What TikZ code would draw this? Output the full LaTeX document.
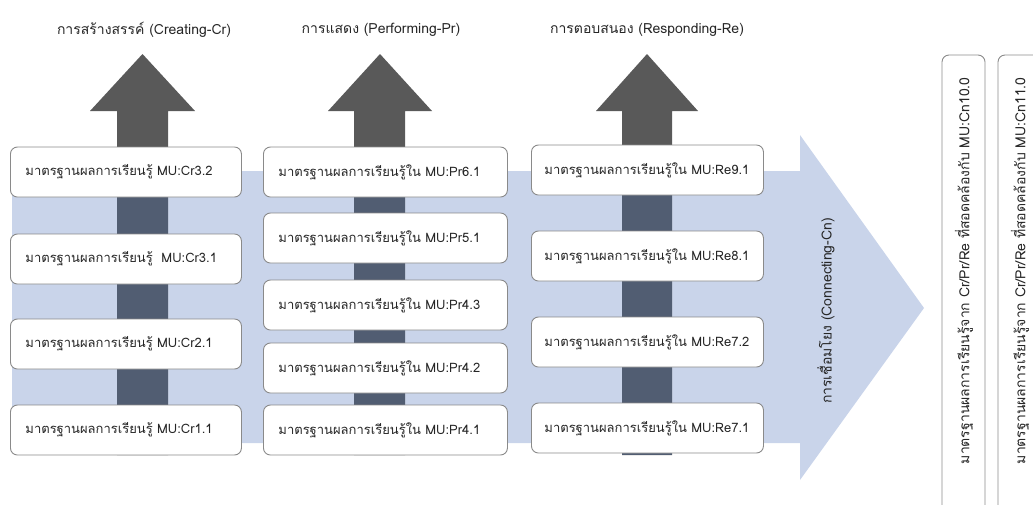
\documentclass[tikz,border=0pt]{standalone}
\usepackage{fontspec}
\setmainfont{Loma}[Script=Thai]
\usepackage{tikz}

\definecolor{cnblue}{HTML}{C9D4EA}
\definecolor{upgrey}{HTML}{595959}
\definecolor{upslate}{HTML}{515D72}
\definecolor{boxline}{HTML}{8A8A8A}
\definecolor{txt}{HTML}{262626}

\begin{document}
\begin{tikzpicture}[x=1pt,y=-1pt,
	stdbox/.style={draw=boxline,fill=white,rounded corners=7pt,line width=0.9pt,
		anchor=west,minimum height=50pt,inner xsep=15pt,align=left,
		font=\fontsize{13}{15}\selectfont,text=txt},
	head/.style={font=\fontsize{14}{16}\selectfont,text=txt},
	cnbox/.style={draw=boxline,rounded corners=7pt,line width=0.9pt}]
	
	\useasboundingbox (0,0) rectangle (1033,504);
	
	% the big arrow behind everything
	\fill[cnblue] (12,171) -- (800,171) -- (800,135) -- (924,308) -- (800,480) -- (800,443) -- (12,443) -- cycle;
	
	% the three arrows pointing up
	\fill[upgrey] (117,455) -- (117,111) -- (90,111) -- (142.5,54) -- (195,111) -- (168,111) -- (168,455) -- cycle;
	\fill[upgrey] (354,455) -- (354,111) -- (328,111) -- (380,54) -- (432,111) -- (405,111) -- (405,455) -- cycle;
	\fill[upgrey] (622,455) -- (622,111) -- (596,111) -- (647,54) -- (698,111) -- (672,111) -- (672,455) -- cycle;
	\fill[upslate] (117,171) rectangle (168,455);
	\fill[upslate] (354,171) rectangle (405,455);
	\fill[upslate] (622,171) rectangle (672,455);
	
	\node[head] (cr) at (144,30) {การสร้างสรรค์ (Creating-Cr)};
	\node[head] (pr) at (381,30) {การแสดง (Performing-Pr)};
	\node[head] (re) at (647,30) {การตอบสนอง (Responding-Re)};
	
	\node[stdbox,minimum width=231pt,text width=201pt] (cr32) at (10,172) {มาตรฐานผลการเรียนรู้ MU:Cr3.2};
	\node[stdbox,minimum width=231pt,text width=201pt] (cr31) at (10,259) {มาตรฐานผลการเรียนรู้~ MU:Cr3.1};
	\node[stdbox,minimum width=231pt,text width=201pt] (cr21) at (10,344) {มาตรฐานผลการเรียนรู้ MU:Cr2.1};
	\node[stdbox,minimum width=231pt,text width=201pt] (cr11) at (10,430) {มาตรฐานผลการเรียนรู้ MU:Cr1.1};
	
	\node[stdbox,minimum width=244pt,text width=214pt] (pr61) at (263,172) {มาตรฐานผลการเรียนรู้ใน MU:Pr6.1};
	\node[stdbox,minimum width=244pt,text width=214pt] (pr51) at (263,238) {มาตรฐานผลการเรียนรู้ใน MU:Pr5.1};
	\node[stdbox,minimum width=244pt,text width=214pt] (pr43) at (263,305) {มาตรฐานผลการเรียนรู้ใน MU:Pr4.3};
	\node[stdbox,minimum width=244pt,text width=214pt] (pr42) at (263,368) {มาตรฐานผลการเรียนรู้ใน MU:Pr4.2};
	\node[stdbox,minimum width=244pt,text width=214pt] (pr41) at (263,430) {มาตรฐานผลการเรียนรู้ใน MU:Pr4.1};
	
	\node[stdbox,minimum width=232pt,inner xsep=13pt,text width=206pt] (re91) at (531,170) {มาตรฐานผลการเรียนรู้ใน MU:Re9.1};
	\node[stdbox,minimum width=232pt,inner xsep=13pt,text width=206pt] (re81) at (531,256) {มาตรฐานผลการเรียนรู้ใน MU:Re8.1};
	\node[stdbox,minimum width=232pt,inner xsep=13pt,text width=206pt] (re72) at (531,342) {มาตรฐานผลการเรียนรู้ใน MU:Re7.2};
	\node[stdbox,minimum width=232pt,inner xsep=13pt,text width=206pt] (re71) at (531,428) {มาตรฐานผลการเรียนรู้ใน MU:Re7.1};
	
	\node[head,rotate=90] (cn) at (826,311) {การเชื่อมโยง (Connecting-Cn)};
	
	% the two tall boxes on the right
	\draw[cnbox] (942,530) -- (942,55) -- (985,55) -- (985,530);
	\draw[cnbox] (998,530) -- (998,55) -- (1050,55) -- (1050,530);
	\node[head,rotate=90,anchor=east] (cn10) at (964,74) {มาตรฐานผลการเรียนรู้จาก Cr/Pr/Re ที่สอดคล้องกับ MU:Cn10.0};
	\node[head,rotate=90,anchor=east] (cn11) at (1020,74) {มาตรฐานผลการเรียนรู้จาก Cr/Pr/Re ที่สอดคล้องกับ MU:Cn11.0};
	
\end{tikzpicture}
\end{document}
